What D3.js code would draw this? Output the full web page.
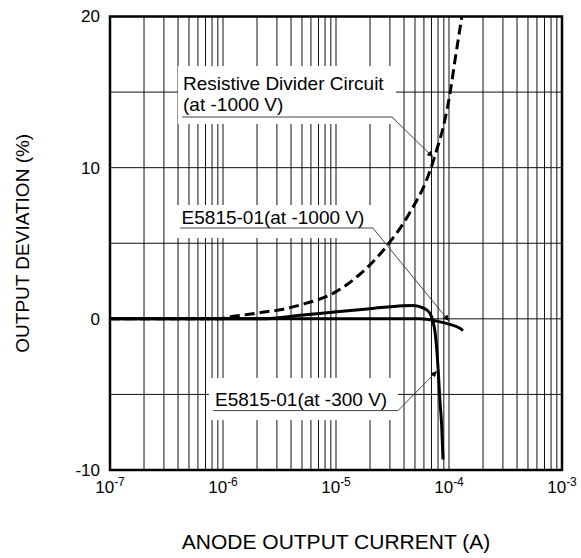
<!DOCTYPE html>
<html>
<head>
<meta charset="utf-8">
<script src="https://cdn.jsdelivr.net/npm/d3@7"></script>
<style>
html,body{margin:0;padding:0;background:#fff;}
svg{display:block;}
text{font-family:"Liberation Sans",Arial,Helvetica,sans-serif;fill:#000;}
</style>
</head>
<body>
<svg id="chart" width="581" height="558"></svg>
<script>
// ---- data ----
const xTickExponents = [-7, -6, -5, -4, -3];
const yTickValues = [-10, 0, 10, 20];
const yGridValues = [-5, 0, 5, 10, 15];

// Resistive Divider Circuit (at -1000 V)
const resistiveI = [1e-7, 5e-7, 9e-7, 1.2e-6, 1.7e-6, 2.3e-6, 3.2e-6, 5e-6, 9.5e-6, 1.6e-5, 2.8e-5, 4.4e-5, 6.8e-5, 7.8e-5, 8.9e-5, 1.02e-4, 1.13e-4, 1.3e-4];
const resistiveDev = [0, 0, 0, 0.15, 0.3, 0.45, 0.6, 0.95, 1.7, 2.9, 4.8, 6.9, 9.8, 11.2, 12.7, 14.9, 17.1, 20];

// E5815-01 (at -1000 V)
const e1000I = [1e-7, 1e-6, 1e-5, 3e-5, 5.5e-5, 7.8e-5, 1.0e-4, 1.25e-4, 1.33e-4];
const e1000Dev = [0, 0, 0, 0, 0, -0.15, -0.35, -0.63, -0.78];

// E5815-01 (at -300 V)
const e300I = [1e-7, 1e-6, 2.2e-6, 5.1e-6, 1.02e-5, 2.0e-5, 3.92e-5, 4.8e-5, 5.89e-5, 6.79e-5, 7.22e-5, 7.52e-5, 7.78e-5, 8.04e-5, 8.32e-5, 8.61e-5, 8.85e-5];
const e300Dev = [0, 0, 0, 0.25, 0.47, 0.67, 0.87, 0.89, 0.73, 0.36, -0.19, -0.85, -1.95, -3.5, -5.48, -7.03, -9.3];

// annotations (positions in data units: current, deviation)
const annLabels = [["Resistive Divider Circuit", "(at -1000 V)"], ["E5815-01(at -1000 V)"], ["E5815-01(at -300 V)"]];
const annTextI = [4.43e-7, 4.3e-7, 8.5e-7];
const annTextDev = [15.13, 6.27, -5.77];
const annBoxI = [[3.99e-7, 3.4e-5], [3.82e-7, 2.3e-5], [7.5e-7, 3.54e-5]];
const annBoxDev = [[16.72, 12.89], [7.53, 5.35], [-3.91, -6.70]];
const annLineI = [[4.34e-7, 3.13e-5, 7.21e-5], [4.16e-7, 2.12e-5, 1.0e-4], [8.17e-7, 3.54e-5, 7.83e-5]];
const annLineDev = [[13.35, 13.35, 10.7], [6.01, 6.01, -0.15], [-6.07, -6.07, -3.45]];

// ---- chart ----
const W = 581, H = 558;
const M = {left: 110, right: 19, top: 16.5, bottom: 88};
const svg = d3.select("#chart");
svg.append("rect").attr("width", W).attr("height", H).attr("fill", "#fff");

const x = d3.scaleLog().domain([1e-7, 1e-3]).range([M.left, W - M.right]);
const y = d3.scaleLinear().domain([-10, 20]).range([H - M.bottom, M.top]);

const defs = svg.append("defs");
defs.append("marker").attr("id", "arr").attr("viewBox", "0 0 10 10")
  .attr("refX", 10).attr("refY", 5).attr("markerWidth", 9).attr("markerHeight", 6)
  .attr("markerUnits", "userSpaceOnUse").attr("orient", "auto")
  .append("path").attr("d", "M0,0 L10,5 L0,10 Z").attr("fill", "#000");

// grid
const gx = [];
for (let e = -7; e < -3; e++) for (let k = 1; k <= 9; k++) {
  const v = k * Math.pow(10, e);
  if (!(k === 1 && e === -7)) gx.push(v);
}
const grid = svg.append("g").attr("stroke", "#111").attr("stroke-width", 1);
grid.selectAll("line.v").data(gx).join("line").attr("class", "v")
  .attr("x1", d => x(d)).attr("x2", d => x(d)).attr("y1", y(20)).attr("y2", y(-10));
grid.selectAll("line.h").data(yGridValues).join("line").attr("class", "h")
  .attr("x1", x(1e-7)).attr("x2", x(1e-3)).attr("y1", d => y(d)).attr("y2", d => y(d));

// white label boxes
svg.append("g").selectAll("rect").data(annBoxI).join("rect")
  .attr("x", d => x(d[0])).attr("width", d => x(d[1]) - x(d[0]))
  .attr("y", (d, i) => y(annBoxDev[i][0])).attr("height", (d, i) => y(annBoxDev[i][1]) - y(annBoxDev[i][0]))
  .attr("fill", "#fff");

// leader lines
svg.append("g").selectAll("polyline").data(annLineI).join("polyline")
  .attr("points", (d, i) => d.map((v, j) => x(v) + "," + y(annLineDev[i][j])).join(" "))
  .attr("fill", "none").attr("stroke", "#444").attr("stroke-width", 1)
  .attr("marker-end", "url(#arr)");

// annotation texts
const at = svg.append("g").selectAll("text").data(annLabels).join("text")
  .attr("x", (d, i) => x(annTextI[i])).attr("y", (d, i) => y(annTextDev[i]))
  .attr("font-size", 19);
at.each(function(d, i) {
  const t = d3.select(this);
  d.forEach((s, j) => t.append("tspan").attr("x", x(annTextI[i])).attr("dy", j === 0 ? 0 : 21).text(s));
});

// data lines
const line = d3.line().curve(d3.curveMonotoneX);
const mk = (xs, ys) => xs.map((v, i) => [x(v), y(ys[i])]);
const clip = defs.append("clipPath").attr("id", "plotclip").append("rect")
  .attr("x", x(1e-7)).attr("y", y(20)).attr("width", x(1e-3) - x(1e-7)).attr("height", y(-10) - y(20));
const lines = svg.append("g").attr("clip-path", "url(#plotclip)");
lines.append("path").attr("d", line(mk(e1000I, e1000Dev))).attr("fill", "none").attr("stroke", "#000").attr("stroke-width", 3);
lines.append("path").attr("d", line(mk(e300I, e300Dev))).attr("fill", "none").attr("stroke", "#000").attr("stroke-width", 3);
lines.append("path").attr("d", line(mk(resistiveI, resistiveDev))).attr("fill", "none").attr("stroke", "#000")
  .attr("stroke-width", 3).attr("stroke-dasharray", "10,5");

// border
svg.append("rect").attr("x", x(1e-7)).attr("y", y(20)).attr("width", x(1e-3) - x(1e-7)).attr("height", y(-10) - y(20))
  .attr("fill", "none").attr("stroke", "#000").attr("stroke-width", 2.5);

// y ticks
svg.append("g").selectAll("text").data(yTickValues).join("text")
  .attr("x", x(1e-7) - 10).attr("y", d => y(d)).attr("dy", "0.35em")
  .attr("text-anchor", "end").attr("font-size", 17).text(d => d);

// x ticks
const xt = svg.append("g").selectAll("text").data(xTickExponents).join("text")
  .attr("x", d => x(Math.pow(10, d))).attr("y", y(-10) + 23)
  .attr("text-anchor", "middle").attr("font-size", 17);
xt.append("tspan").text("10");
xt.append("tspan").attr("font-size", 12).attr("dy", -7).text(d => d);

// axis titles
svg.append("text").attr("x", (x(1e-7) + x(1e-3)) / 2).attr("y", 549)
  .attr("text-anchor", "middle").attr("font-size", 21).text("ANODE OUTPUT CURRENT (A)");
svg.append("text").attr("transform", `translate(29,${(y(20) + y(-10)) / 2}) rotate(-90)`)
  .attr("text-anchor", "middle").attr("font-size", 19).text("OUTPUT DEVIATION (%)");
</script>
</body>
</html>
